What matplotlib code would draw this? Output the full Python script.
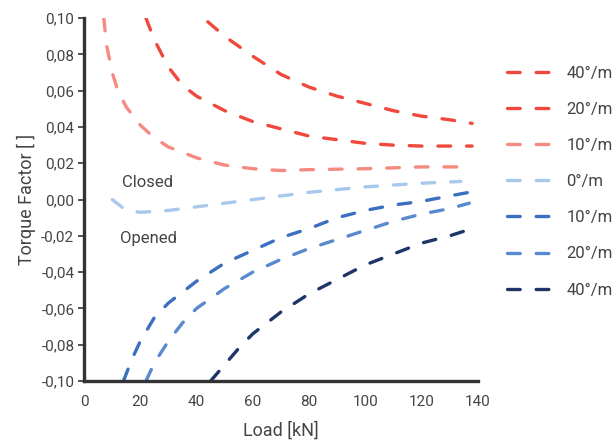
import matplotlib.pyplot as plt
import numpy as np

x_r40 = [44, 50, 60, 70, 80, 90, 100, 110, 120, 130, 138]
y_r40 = [0.098, 0.090, 0.079, 0.069, 0.062, 0.057, 0.053, 0.049, 0.046, 0.044, 0.042]

x_r20 = [22, 25, 30, 35, 40, 50, 60, 70, 80, 90, 100, 110, 120, 130, 138]
y_r20 = [0.100, 0.088, 0.073, 0.063, 0.057, 0.049, 0.043, 0.039, 0.035, 0.033, 0.031, 0.030, 0.0295, 0.0295, 0.0295]

x_r10 = [7, 8, 10, 12, 15, 20, 25, 30, 40, 50, 60, 70, 80, 100, 120, 134]
y_r10 = [0.100, 0.085, 0.070, 0.060, 0.051, 0.041, 0.034, 0.029, 0.023, 0.019, 0.017, 0.016, 0.0165, 0.017, 0.018, 0.018]

x_0 = [10, 15, 20, 30, 40, 60, 80, 100, 120, 134]
y_0 = [0.0, -0.006, -0.007, -0.006, -0.004, 0.000, 0.004, 0.007, 0.009, 0.010]

x_b10 = [14, 17, 20, 25, 30, 40, 50, 60, 70, 80, 90, 100, 110, 120, 130, 137]
y_b10 = [-0.100, -0.088, -0.078, -0.065, -0.057, -0.045, -0.035, -0.028, -0.021, -0.016, -0.010, -0.006, -0.003, -0.001, 0.002, 0.004]

x_b20 = [22, 25, 30, 35, 40, 50, 60, 70, 80, 90, 100, 110, 120, 130, 137]
y_b20 = [-0.100, -0.090, -0.078, -0.068, -0.060, -0.049, -0.040, -0.033, -0.027, -0.022, -0.017, -0.012, -0.008, -0.005, -0.002]

x_b40 = [45, 50, 55, 60, 70, 80, 90, 100, 110, 120, 130, 136]
y_b40 = [-0.100, -0.091, -0.082, -0.074, -0.062, -0.052, -0.044, -0.036, -0.030, -0.024, -0.020, -0.017]

labels = ['40°/m', '20°/m', '10°/m', '0°/m', '10°/m', '20°/m', '40°/m']
colors = ['#f0483c', '#f0483c', '#f58a80', '#a9c9ec', '#3c6fc0', '#5b89cf', '#1e3567']

plt.rcParams['font.family'] = ['Roboto', 'DejaVu Sans']
txt = '#444444'

fig = plt.figure(figsize=(6.14, 4.43), dpi=100)
ax = fig.add_axes([0.137, 0.14, 0.641, 0.819])

series = [(x_r40, y_r40), (x_r20, y_r20), (x_r10, y_r10), (x_0, y_0),
          (x_b10, y_b10), (x_b20, y_b20), (x_b40, y_b40)]
for (xs, ys), lab, c in zip(series, labels, colors):
    ax.plot(xs, ys, color=c, lw=2.4, dashes=(3.8, 4.8), dash_capstyle='round', label=lab)

ax.set_xlim(0, 140)
ax.set_ylim(-0.10, 0.10)
ax.set_xticks(np.arange(0, 141, 20))
yt = np.arange(-0.10, 0.101, 0.02)
ax.set_yticks(yt)
ax.set_yticklabels([('%.2f' % v).replace('.', ',') if abs(v) > 1e-9 else '0,00' for v in yt])

for s in ['top', 'right']:
    ax.spines[s].set_visible(False)
for s in ['left', 'bottom']:
    ax.spines[s].set_linewidth(2.4)
    ax.spines[s].set_color('#333333')
ax.tick_params(axis='y', length=4, width=1.2, color='#333333', labelsize=11, labelcolor=txt, pad=3)
ax.tick_params(axis='x', length=0, labelsize=11, labelcolor=txt, pad=10)

ax.set_xlabel('Load [kN]', fontsize=13, color=txt, labelpad=9)
ax.set_ylabel('Torque Factor [ ]', fontsize=13, color=txt, labelpad=4)

ax.text(22.5, 0.0095, 'Closed', fontsize=12, color=txt, ha='center', va='center')
ax.text(23, -0.0215, 'Opened', fontsize=12, color=txt, ha='center', va='center')

handles, labs = ax.get_legend_handles_labels()
fig.legend(handles, labs, loc='upper left', bbox_to_anchor=(0.815, 0.867), frameon=False,
           fontsize=12, labelcolor=txt, handlelength=2.7, handletextpad=0.85,
           labelspacing=1.27, borderaxespad=0)

fig.savefig('out.png', dpi=100)
